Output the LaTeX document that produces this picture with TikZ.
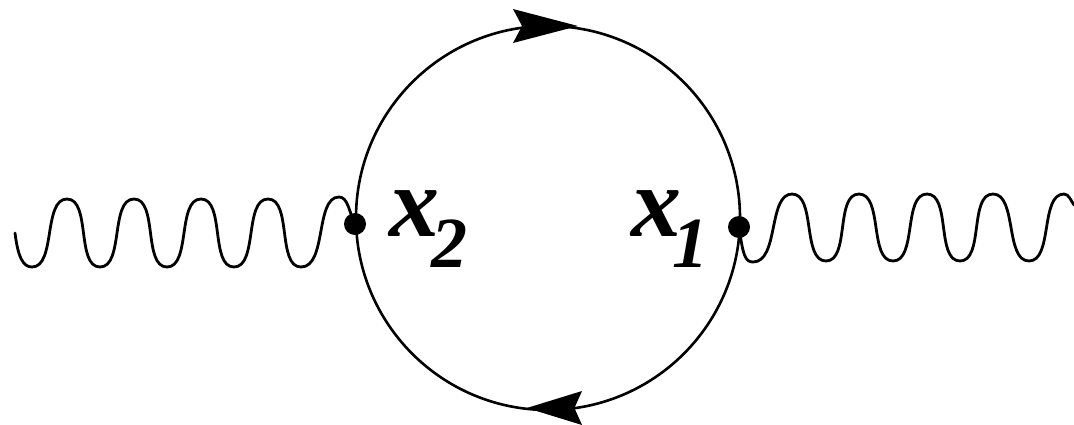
\documentclass[tikz,border=0pt]{standalone}
\usepackage{fontspec}
\setmainfont{Liberation Serif}
\tikzset{
  line/.style={draw=black,line width=2.8pt,line cap=round},
  vertex/.style={circle,fill=black,inner sep=0pt,minimum size=22pt},
  loopline/.style={circle,draw=black,line width=2.6pt,inner sep=0pt,minimum size=384pt},
  label/.style={anchor=base west,inner sep=0pt,font=\bfseries\itshape\fontsize{100}{100}\selectfont},
  headshape/.pic={\fill[black] (32,0) -- (-33,-17) -- (-24,0) -- (-33,17) -- cycle;}
}
\newcommand{\subs}[1]{\raisebox{-31pt}{\fontsize{72}{72}\selectfont #1}}
\begin{document}
\begin{tikzpicture}[x=1pt,y=-1pt]
\useasboundingbox[fill=white] (0,0) rectangle (1074,424);
\node[loopline] (loop) at (548,218) {};
\node[vertex] (v2) at (355,224) {};
\node[vertex] (v1) at (739,227) {};
\pic at (546,26) {headshape};
\pic at (554,408) [rotate=180,xscale=0.85] {headshape};
\coordinate (wl) at (15,233);
\coordinate (wr) at (1074,205);
\draw[line] (wl) .. controls +(3,24) and +(-9,0) .. (32,267)
  .. controls +(24,0) and +(-24,0) .. (67,199)
  .. controls +(24,0) and +(-24,0) .. (100,267)
  .. controls +(24,0) and +(-24,0) .. (134,199)
  .. controls +(24,0) and +(-24,0) .. (167,267)
  .. controls +(24,0) and +(-24,0) .. (201,199)
  .. controls +(24,0) and +(-24,0) .. (234,267)
  .. controls +(24,0) and +(-24,0) .. (268,199)
  .. controls +(24,0) and +(-24,0) .. (301,267)
  .. controls +(26,0) and +(-24,0) .. (339,197)
  .. controls +(9,0) and +(-6,-12) .. (v2.center);
\draw[line] (v1.center) .. controls +(4,28) and +(-8,0) .. (753,262)
  .. controls +(26,0) and +(-24,0) .. (792,194)
  .. controls +(24,0) and +(-24,0) .. (826,261)
  .. controls +(24,0) and +(-24,0) .. (859,194)
  .. controls +(24,0) and +(-24,0) .. (893,261)
  .. controls +(24,0) and +(-24,0) .. (927,194)
  .. controls +(24,0) and +(-24,0) .. (960,261)
  .. controls +(24,0) and +(-24,0) .. (993,194)
  .. controls +(24,0) and +(-24,0) .. (1029,261)
  .. controls +(24,0) and +(-24,0) .. (1064,194)
  .. controls +(5,0) and +(-3,-4) .. (wr);
\node[label] (lx2) at (389,236) {x\kern-8pt\subs{2}};
\node[label] (lx1) at (631,236) {x\kern-9pt\subs{1}};
\end{tikzpicture}
\end{document}
